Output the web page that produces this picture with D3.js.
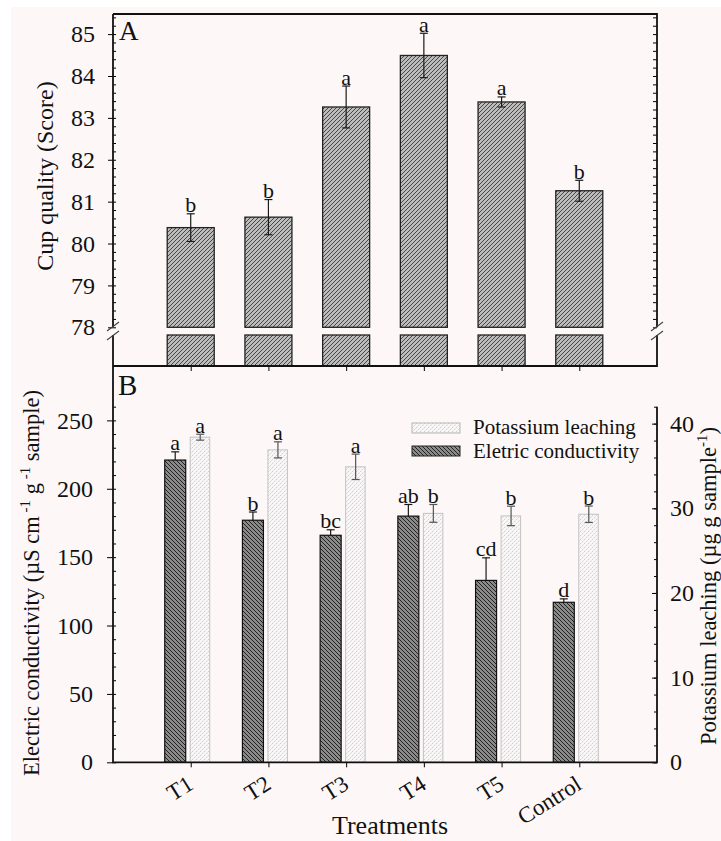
<!DOCTYPE html>
<html>
<head>
<meta charset="utf-8">
<script src="https://cdn.jsdelivr.net/npm/d3@7"></script>
<style>
body { margin: 0; background: #fff; }
svg { display: block; }
svg text { font-family: "Liberation Serif", "Times New Roman", serif !important; fill: #111; }
</style>
</head>
<body>
<svg id="chart" width="721" height="841" font-family="Liberation Serif"></svg>
<script>
// data
var treatments = ["T1", "T2", "T3", "T4", "T5", "Control"];
var cupMean = [80.38, 80.63, 83.26, 84.49, 83.38, 81.26];
var cupErr = [0.33, 0.42, 0.5, 0.53, 0.12, 0.25];
var cupLetters = ["b", "b", "a", "a", "a", "b"];
var ecMean = [221, 177, 166, 180, 133, 117];
var ecErr = [6, 6, 4, 8.5, 16.5, 2.5];
var ecLetters = ["a", "b", "bc", "ab", "cd", "d"];
var kMean = [38.4, 36.9, 34.9, 29.4, 29.1, 29.3];
var kErr = [0.35, 0.95, 1.5, 1.05, 1.15, 0.97];
var kLetters = ["a", "a", "a", "b", "b", "b"];
var cupTicks = [78, 79, 80, 81, 82, 83, 84, 85];
var ecTicks = [0, 50, 100, 150, 200, 250];
var kTicks = [0, 10, 20, 30, 40];

var L = 113, R = 657, topA = 14, botA = 366, botB = 762.3, topB = 406.7;
var brk1 = 327.3, brk2 = 335;
var serif = '"Liberation Serif", "Times New Roman", serif';

var svg = d3.select("#chart");
svg.append("rect").attr("x", 11).attr("y", 7).attr("width", 710).attr("height", 834).attr("fill", "#fdf8f7");

// hatch patterns
var defs = svg.append("defs");
function hatch(id, bg, col, d, w, dash) {
  var p = defs.append("pattern").attr("id", id).attr("patternUnits", "userSpaceOnUse")
    .attr("width", 4).attr("height", 4);
  p.append("rect").attr("width", 4).attr("height", 4).attr("fill", bg);
  var l = p.append("path").attr("d", d).attr("stroke", col).attr("stroke-width", w);
  if (dash) l.attr("stroke-dasharray", dash);
}
var fwd = "M-1,1 L1,-1 M0,4 L4,0 M3,5 L5,3";
var back = "M-1,3 L1,5 M0,0 L4,4 M3,-1 L5,1";
hatch("patA", "#bcbcbc", "#2a2a2a", fwd, 0.8);
hatch("patEC", "#8a8a8a", "#161616", back, 0.9);
hatch("patK", "#f8f6f6", "#c6c6c6", fwd, 0.8, "2,1");

var x = d3.scalePoint().domain(treatments).range([L, R]).padding(1);
var yA = d3.scaleLinear().domain([78, 85.48]).range([brk1, topA]);
var yB = d3.scaleLinear().domain([0, 260]).range([botB, topB]);
var yK = d3.scaleLinear().domain([0, 42]).range([botB, topB]);

function tidy(g, size) {
  g.attr("font-family", null).attr("font-size", null);
  g.select(".domain").remove();
  g.selectAll("text").attr("fill", "#111").style("font-family", serif).style("font-size", size);
}

// ---------- panel A ----------
var gA = svg.append("g");
gA.selectAll(".barA").data(treatments).enter().append("rect")
  .attr("x", function(d) { return x(d) - 23.5; })
  .attr("y", function(d, i) { return yA(cupMean[i]); })
  .attr("width", 47)
  .attr("height", function(d, i) { return yA(78) - yA(cupMean[i]); })
  .attr("fill", "url(#patA)").attr("stroke", "#222").attr("stroke-width", 1.3);
gA.selectAll(".barA2").data(treatments).enter().append("rect")
  .attr("x", function(d) { return x(d) - 23.5; })
  .attr("y", brk2).attr("width", 47).attr("height", botA - brk2)
  .attr("fill", "url(#patA)").attr("stroke", "#222").attr("stroke-width", 1.3);

function errBars(g, cx, sc, mean, err, col) {
  treatments.forEach(function(t, i) {
    var xx = cx(t), hi = sc(mean[i] + err[i]), lo = sc(mean[i] - err[i]);
    g.append("line").attr("x1", xx).attr("x2", xx).attr("y1", hi).attr("y2", lo).attr("stroke", col).attr("stroke-width", 1.2);
    g.append("line").attr("x1", xx - 4).attr("x2", xx + 4).attr("y1", hi).attr("y2", hi).attr("stroke", col).attr("stroke-width", 1.2);
    g.append("line").attr("x1", xx - 4).attr("x2", xx + 4).attr("y1", lo).attr("y2", lo).attr("stroke", col).attr("stroke-width", 1.2);
  });
}
function letters(g, cx, sc, mean, err, lab) {
  g.selectAll(null).data(treatments).enter().append("text")
    .attr("x", function(d) { return cx(d); })
    .attr("y", function(d, i) { return sc(mean[i] + err[i]) - 1.5; })
    .attr("text-anchor", "middle").style("font-size", "22px")
    .text(function(d, i) { return lab[i]; });
}
errBars(gA, x, yA, cupMean, cupErr, "#1a1a1a");
letters(gA, x, yA, cupMean, cupErr, cupLetters);

// axes A
gA.append("g").attr("transform", "translate(" + L + ",0)")
  .call(d3.axisLeft(yA).tickValues(cupTicks).tickSize(5).tickPadding(13).tickFormat(d3.format("d")))
  .call(tidy, "24px");
gA.append("g").attr("transform", "translate(" + L + ",0)")
  .call(d3.axisRight(yA).tickValues(d3.range(78, 85.5, 0.2)).tickSize(3).tickFormat(""))
  .call(tidy, "1px");
gA.append("g").attr("transform", "translate(" + R + ",0)")
  .call(d3.axisLeft(yA).tickValues(d3.range(78, 85.5, 0.2)).tickSize(4).tickFormat(""))
  .call(tidy, "1px");
gA.append("g").attr("transform", "translate(0," + botA + ")")
  .call(d3.axisBottom(x).tickSize(5).tickFormat(""))
  .call(tidy, "1px");

gA.append("text").attr("x", 119).attr("y", 40).style("font-size", "27px").text("A");
gA.append("text").attr("transform", "translate(53," + 176 + ") rotate(-90)")
  .attr("text-anchor", "middle").style("font-size", "24px").text("Cup quality (Score)");

// ---------- panel B ----------
var gB = svg.append("g");
// EC error bars behind the bars
errBars(gB, function(t) { return x(t) - 15.5; }, yB, ecMean, ecErr, "#1a1a1a");
gB.selectAll(".ec").data(treatments).enter().append("rect")
  .attr("x", function(d) { return x(d) - 26; })
  .attr("y", function(d, i) { return yB(ecMean[i]); })
  .attr("width", 21)
  .attr("height", function(d, i) { return yB(0) - yB(ecMean[i]); })
  .attr("fill", "url(#patEC)").attr("stroke", "#111").attr("stroke-width", 1.2);
gB.selectAll(".k").data(treatments).enter().append("rect")
  .attr("x", function(d) { return x(d) - 0.5; })
  .attr("y", function(d, i) { return yK(kMean[i]); })
  .attr("width", 19.5)
  .attr("height", function(d, i) { return yK(0) - yK(kMean[i]); })
  .attr("fill", "url(#patK)").attr("stroke", "#c2c2c2").attr("stroke-width", 1);
errBars(gB, function(t) { return x(t) + 9.5; }, yK, kMean, kErr, "#555");
letters(gB, function(t) { return x(t) - 15.5; }, yB, ecMean, ecErr, ecLetters);
letters(gB, function(t) { return x(t) + 9.5; }, yK, kMean, kErr, kLetters);

gB.append("g").attr("transform", "translate(" + L + ",0)")
  .call(d3.axisLeft(yB).tickValues(ecTicks).tickSize(6).tickPadding(14))
  .call(tidy, "24px");
gB.append("g").attr("transform", "translate(" + L + ",0)")
  .call(d3.axisRight(yB).tickValues(d3.range(0, 261, 10)).tickSize(3).tickFormat(""))
  .call(tidy, "1px");
gB.append("g").attr("transform", "translate(" + R + ",0)")
  .call(d3.axisRight(yK).tickValues(kTicks).tickSize(0).tickPadding(13))
  .call(tidy, "24px");
gB.append("g").attr("transform", "translate(" + R + ",0)")
  .call(d3.axisLeft(yK).tickValues(kTicks).tickSize(5).tickFormat(""))
  .call(tidy, "1px");
gB.append("g").attr("transform", "translate(" + R + ",0)")
  .call(d3.axisLeft(yK).tickValues(d3.range(0, 43, 2)).tickSize(3).tickFormat(""))
  .call(tidy, "1px");
gB.append("g").attr("transform", "translate(0," + botB + ")")
  .call(d3.axisBottom(x).tickSize(5).tickFormat(""))
  .call(tidy, "1px");

gB.selectAll(".xl").data(treatments).enter().append("text")
  .attr("transform", function(d) { return "translate(" + (x(d) + 4) + ",788) rotate(-32)"; })
  .attr("text-anchor", "end").style("font-size", "23px").text(function(d) { return d; });
gB.append("text").attr("x", 390).attr("y", 834).attr("text-anchor", "middle").style("font-size", "26px").text("Treatments");
gB.append("text").attr("x", 118).attr("y", 395).style("font-size", "29px").text("B");

var ly = gB.append("text").attr("transform", "translate(39,583) rotate(-90)")
  .attr("text-anchor", "middle").style("font-size", "22.5px");
ly.append("tspan").text("Electric conductivity (\u00b5S cm");
ly.append("tspan").attr("dy", -9).style("font-size", "15px").text(" -1");
ly.append("tspan").attr("dy", 9).text(" g");
ly.append("tspan").attr("dy", -9).style("font-size", "15px").text(" -1");
ly.append("tspan").attr("dy", 9).text(" sample)");

var ry = gB.append("text").attr("transform", "translate(716,745) rotate(-90)")
  .attr("text-anchor", "start").style("font-size", "22.5px");
ry.append("tspan").text("Potassium leaching (\u00b5g g sample");
ry.append("tspan").attr("dy", -9).style("font-size", "15px").text("-1");
ry.append("tspan").attr("dy", 9).text(")");

// legend
var leg = gB.append("g");
leg.append("rect").attr("x", 412).attr("y", 423).attr("width", 48).attr("height", 10)
  .attr("fill", "url(#patK)").attr("stroke", "#b5b5b5");
leg.append("rect").attr("x", 412).attr("y", 446).attr("width", 48).attr("height", 10)
  .attr("fill", "url(#patEC)").attr("stroke", "#222");
leg.append("text").attr("x", 473).attr("y", 434).style("font-size", "21px").text("Potassium leaching");
leg.append("text").attr("x", 473).attr("y", 457.5).style("font-size", "21px").text("Eletric conductivity");

// frame lines
var frame = svg.append("g").attr("stroke", "#111").attr("stroke-width", 1.8).attr("fill", "none");
frame.append("path").attr("d",
  "M" + L + "," + topA + "H" + R + "V" + brk1 +
  "M" + R + "," + brk2 + "V" + botA + "H" + L +
  "M" + L + "," + topA + "V" + brk1 +
  "M" + L + "," + brk2 + "V" + botB + "H" + R + "V" + topB);
// break marks
var marks = svg.append("g").attr("stroke", "#444").attr("stroke-width", 1.1);
[L, R].forEach(function(ax) {
  marks.append("line").attr("x1", ax - 6).attr("y1", 331).attr("x2", ax + 6).attr("y2", 322);
  marks.append("line").attr("x1", ax - 6).attr("y1", 340).attr("x2", ax + 6).attr("y2", 331);
});
</script>
</body>
</html>
